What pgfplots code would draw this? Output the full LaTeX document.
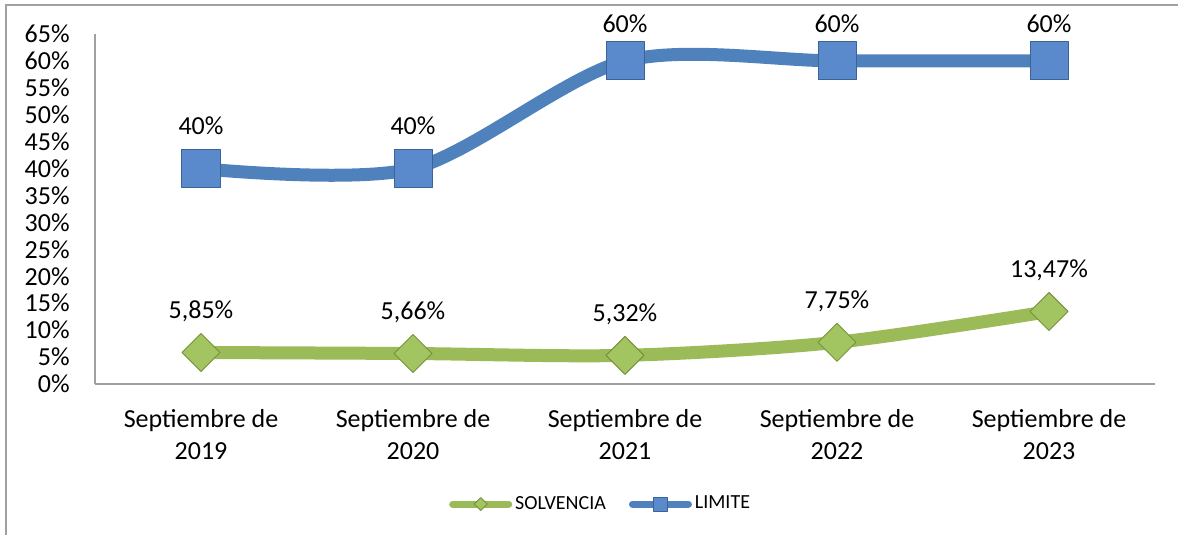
\documentclass[border=0pt]{standalone}
\usepackage{fontspec}
\setmainfont{Carlito}
\usepackage{pgfplots}
\pgfplotsset{compat=1.18}
\definecolor{limblue}{HTML}{4F81BD}
\definecolor{limfill}{HTML}{5A8ACB}
\definecolor{limedge}{HTML}{3A6398}
\definecolor{solgreen}{HTML}{9BBB59}
\definecolor{solfill}{HTML}{A3C561}
\definecolor{soledge}{HTML}{76923C}
\definecolor{framegray}{HTML}{A0A0A0}
\begin{document}
\begin{tikzpicture}
\useasboundingbox (0,0) rectangle (589pt,267.5pt);
\draw[framegray, line width=0.7pt] (3pt,0) -- (3pt,265pt) -- (595pt,265pt);
\begin{axis}[
  at={(47.5pt,75.5pt)}, anchor=south west,
  scale only axis, width=530pt, height=175pt,
  xmin=-0.5, xmax=4.5, ymin=0, ymax=65,
  axis x line*=bottom, axis y line*=left,
  axis line style={-, draw=framegray, line width=0.8pt},
  tick style={draw=none},
  ytick={0,5,10,15,20,25,30,35,40,45,50,55,60,65},
  yticklabels={0\%,5\%,10\%,15\%,20\%,25\%,30\%,35\%,40\%,45\%,50\%,55\%,60\%,65\%},
  xtick={0,1,2,3,4},
  xticklabels={{Septiembre de\\2019},{Septiembre de\\2020},{Septiembre de\\2021},{Septiembre de\\2022},{Septiembre de\\2023}},
  xticklabel style={align=center, font=\fontsize{13}{15.8}\selectfont, inner sep=0pt, anchor=north, yshift=-12.75pt},
  yticklabel style={font=\fontsize{13}{15.8}\selectfont, inner sep=0pt, anchor=east, xshift=-12.5pt},
  clip=false,
  legend style={at={(0.4775,-0.343)}, anchor=center, draw=none, fill=none,
    font=\fontsize{10}{12}\selectfont, legend columns=2,
    /tikz/every even column/.append style={column sep=10pt},
    nodes={inner sep=1.5pt}},
  nodes near coords, point meta=explicit symbolic,
  every node near coord/.append style={font=\fontsize{13}{15.8}\selectfont, anchor=base, yshift=17pt, text=black},
]
\addplot[solgreen, line width=6.5pt, smooth, line join=round,
  mark=square*, mark size=6.72pt,
  mark options={rotate=45, fill=solfill, draw=soledge, line width=0.5pt},
  legend image code/.code={
    \draw[solgreen, line width=3.5pt, line cap=round] (0pt,0pt) -- (28pt,0pt);
    \draw[mark=square*, mark size=2.3pt, mark options={rotate=45, fill=solfill, draw=soledge, line width=0.4pt}] plot coordinates {(14pt,0pt)};
  }]
coordinates {(0,5.85)[5,85\%] (1,5.66)[5,66\%] (2,5.32)[5,32\%] (3,7.75)[7,75\%] (4,13.47)[13,47\%]};
\addlegendentry{SOLVENCIA}
\addplot[limblue, line width=6.5pt, smooth, line join=round,
  mark=square*, mark size=9.5pt,
  mark options={fill=limfill, draw=limedge, line width=0.5pt},
  legend image code/.code={
    \draw[limblue, line width=3.5pt, line cap=round] (0pt,0pt) -- (28pt,0pt);
    \draw[mark=square*, mark size=3.5pt, mark options={fill=limfill, draw=limedge, line width=0.4pt}] plot coordinates {(14pt,0pt)};
  }]
coordinates {(0,40)[40\%] (1,40)[40\%] (2,60)[\raisebox{-3pt}{60\%}] (3,60)[\raisebox{-3pt}{60\%}] (4,60)[\raisebox{-3pt}{60\%}]};
\addlegendentry{LIMITE}
\end{axis}
\end{tikzpicture}
\end{document}
